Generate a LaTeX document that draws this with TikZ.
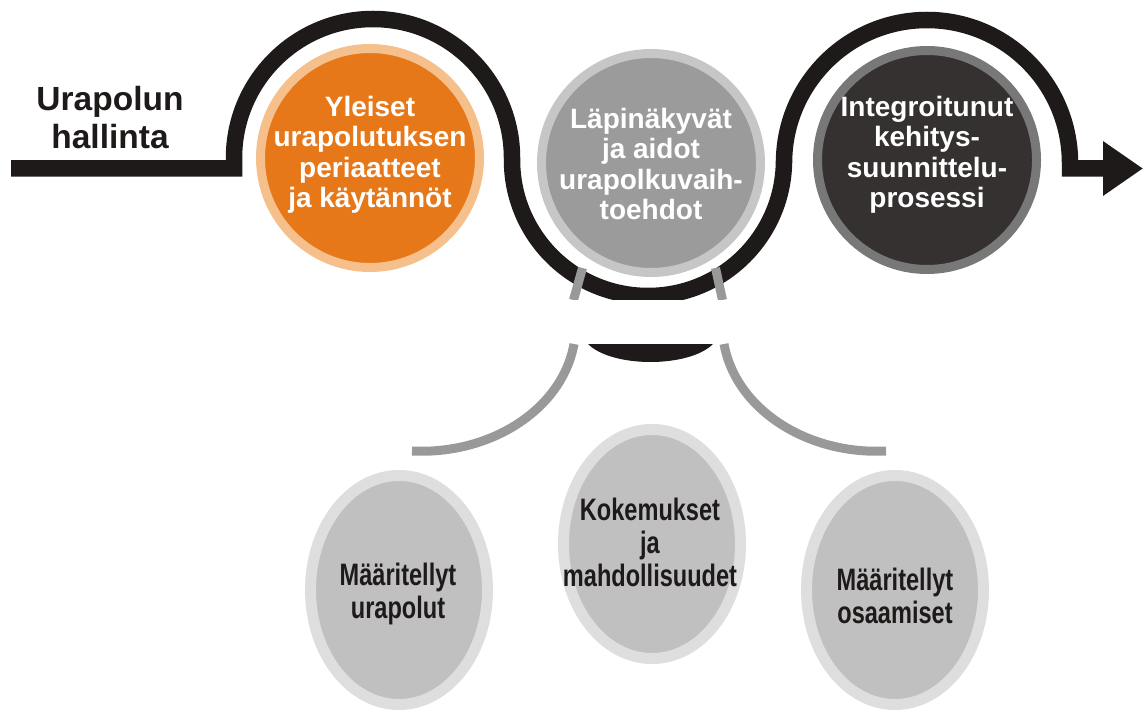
\documentclass[tikz,border=0pt]{standalone}
\usepackage{fontspec}
\setmainfont{Liberation Sans}
\newfontfamily\narrowsans{Liberation Sans}[FakeStretch=0.76]
\usepackage{tikz}
\usetikzlibrary{arrows.meta, shapes.geometric}
\definecolor{wavecol}{RGB}{30,26,25}
\definecolor{orgfill}{RGB}{230,120,25}
\definecolor{orgring}{RGB}{246,192,140}
\definecolor{midfill}{RGB}{155,155,155}
\definecolor{midring}{RGB}{198,198,198}
\definecolor{darkfill}{RGB}{52,49,48}
\definecolor{darkring}{RGB}{120,120,120}
\definecolor{lowfill}{RGB}{192,192,192}
\definecolor{lowring}{RGB}{222,222,222}
\definecolor{stemcol}{RGB}{153,153,153}

\begin{document}
\begin{tikzpicture}[x=1pt, y=-1pt,
  disc/.style 2 args={circle, draw=#2, fill=#1, line width=9pt,
    minimum size=219pt, inner sep=0pt},
  egg/.style={ellipse, draw=lowring, fill=lowfill, line width=11pt,
    minimum width=177pt, minimum height=229pt, inner sep=0pt},
  toptext/.style={text=white, align=center,
    font=\fontsize{28}{30.5}\selectfont\bfseries},
  lowtext/.style={text=wavecol, align=center,
    font=\narrowsans\fontsize{31}{33}\selectfont\bfseries},
  wave/.style={draw=wavecol, line width=16.5pt},
  stem/.style={draw=stemcol, line width=9pt}
]
\useasboundingbox (0,0) rectangle (1145,711);

% The winding path
\draw[wave, -{Triangle[length=40pt, width=52pt]}]
  (11,168.5) -- (234,168.5) -- (234,158)
  arc[start angle=180, end angle=360, radius=139] -- (512,160)
  arc[start angle=180, end angle=0, radius=136] -- (784,163)
  arc[start angle=180, end angle=360, radius=143] -- (1070,168.5) -- (1143,168.5);
\node[font=\fontsize{33.5}{38}\selectfont\bfseries, text=wavecol, align=center]
  (title) at (110,118) {Urapolun\\hallinta};

% Top discs
\node[disc={orgfill}{orgring}]   (yleiset)  at (370,158) {};
\node[disc={midfill}{midring}]   (lapinak)  at (651,163) {};
\node[disc={darkfill}{darkring}] (integro)  at (927,160) {};
\node[toptext] (yleisettxt) at (yleiset) [yshift=3pt]
  {Yleiset\\urapolutuksen\\periaatteet\\ja käytännöt};
\node[toptext] (lapinaktxt) at (lapinak) [yshift=-1pt]
  {Läpinäkyvät\\ja aidot\\urapolkuvaih-\\toehdot};
\node[toptext] (integrotxt) at (integro) [yshift=5pt]
  {Integroitunut\\kehitys-\\suunnittelu-\\prosessi};

% Stems hanging from the lower bend
\draw[stem] (582.5,268) -- (573.5,300);
\draw[stem] (715.5,268) -- (722.5,300);
\fill[white] (540,300) rectangle (760,344);
\fill[wavecol] (588,344) .. controls (612,368) and (689,368) .. (713,344) -- cycle;
\coordinate (ltop) at (574,344);
\coordinate (lend) at (412,451);
\coordinate (rtop) at (724,344);
\coordinate (rend) at (886,451);
\draw[stem] (ltop) .. controls (562,410) and (490,455) .. (lend);
\draw[stem] (rtop) .. controls (736,410) and (808,455) .. (rend);

% Bottom ovals
\node[egg] (urapolut) at (399,590) {};
\node[egg] (kokemus)  at (652,544) {};
\node[egg] (osaam)    at (895,590) {};
\node[lowtext] (urapoluttxt) at (398,594) {Määritellyt\\urapolut};
\node[lowtext] (kokemustxt)  at (650,542) {Kokemukset\\ja\\mahdollisuudet};
\node[lowtext] (osaamtxt)    at (895,596) {Määritellyt\\osaamiset};
\end{tikzpicture}
\end{document}
